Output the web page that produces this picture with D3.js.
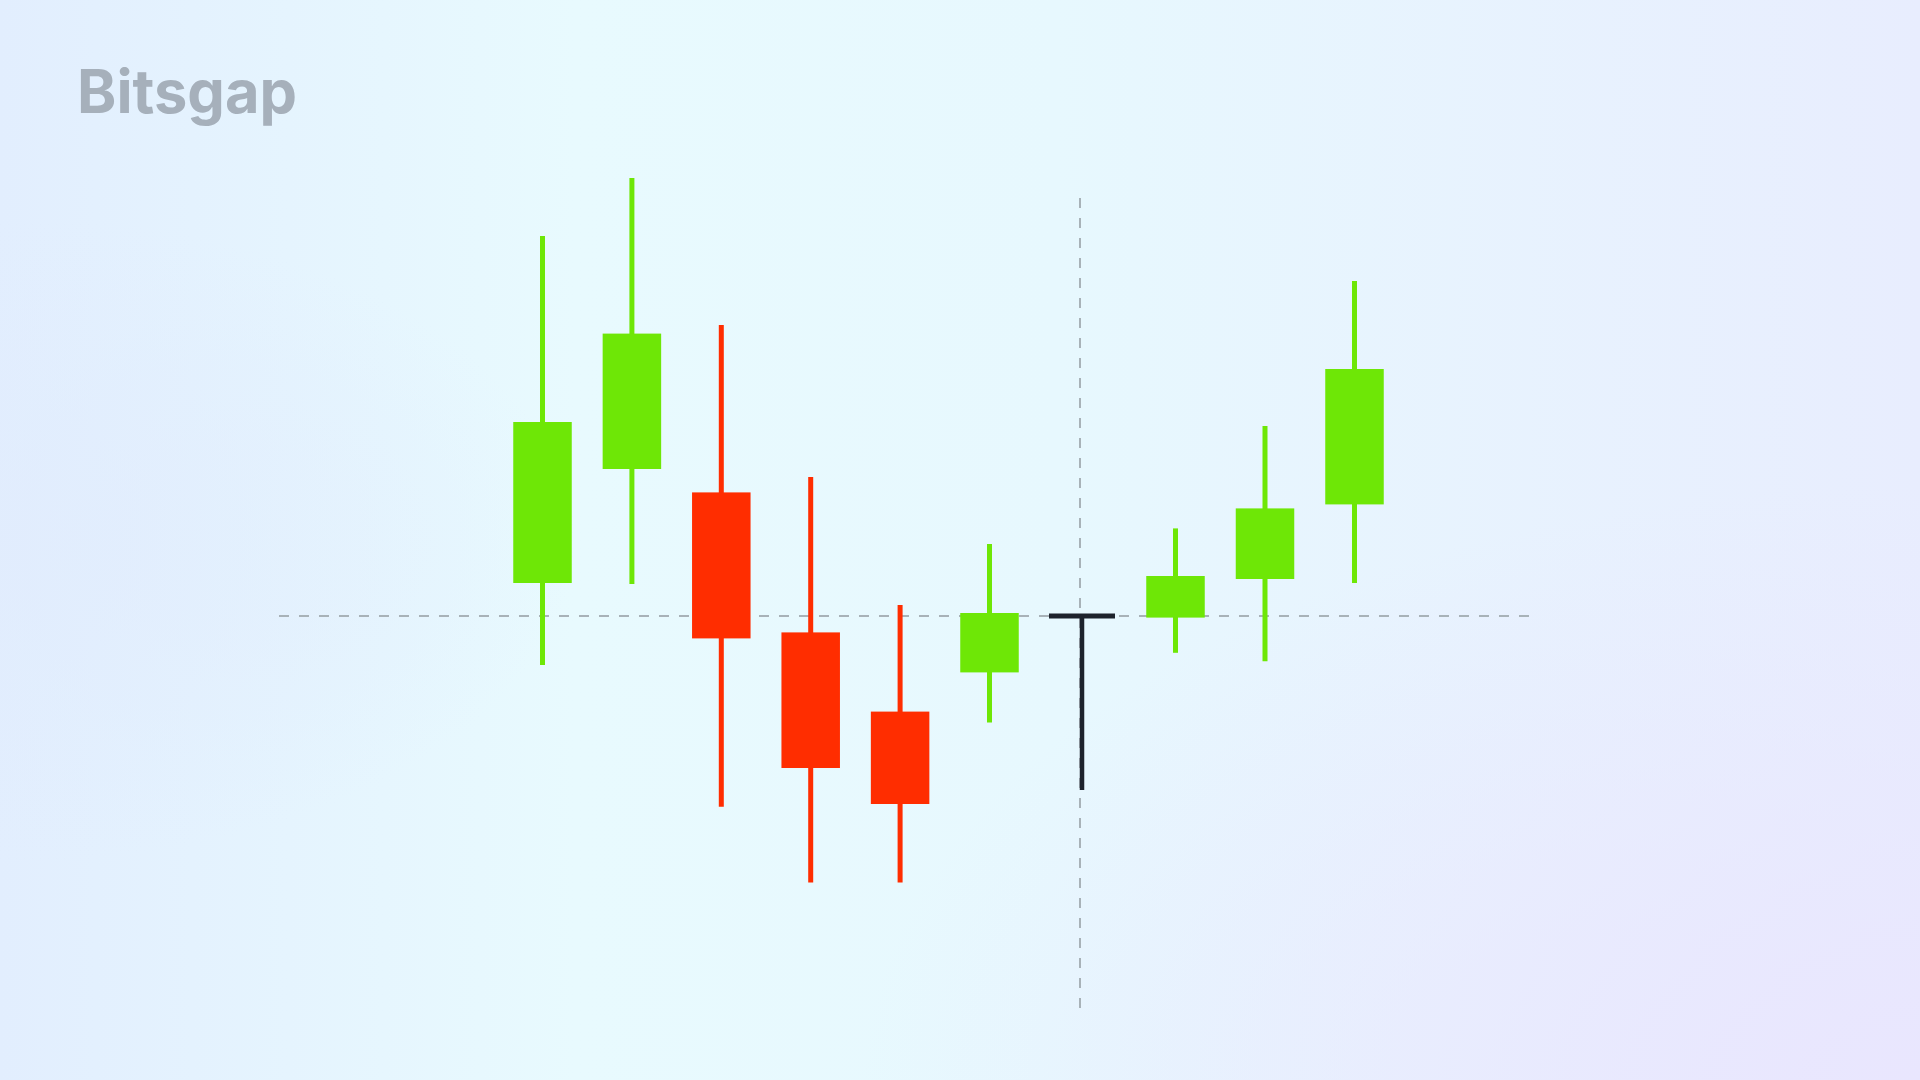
<!DOCTYPE html>
<html>
<head>
<meta charset="utf-8">
<script src="https://cdn.jsdelivr.net/npm/d3@7/dist/d3.min.js"></script>
<style>
  html, body { margin: 0; padding: 0; width: 1920px; height: 1080px; overflow: hidden; }
  svg { display: block; }
</style>
</head>
<body>
<svg id="chart" width="1920" height="1080"></svg>
<script>
// ---- data ----
const candleIndex = [0, 1, 2, 3, 4, 5, 6, 7, 8, 9];
const openValues  = [108.25, 136.75, 130.9, 95.9, 76.1, 85.9, 100, 99.6, 109.25, 127.9];
const closeValues = [148.5, 170.6, 94.4, 62.0, 53.0, 100.75, 100, 110.0, 126.9, 161.75];
const highValues  = [195.0, 209.5, 172.75, 134.75, 102.75, 118.0, 100, 121.9, 147.5, 183.75];
const lowValues   = [87.75, 108.0, 52.3, 33.4, 33.4, 73.4, 56.5, 90.8, 88.7, 108.25];
const crossIndex = 6;       // candle where crosshair is
const crossValue = 100;     // horizontal crosshair level
const brandText = "Bitsgap";

const candles = candleIndex.map((i) => ({
  i, open: openValues[i], close: closeValues[i], high: highValues[i], low: lowValues[i]
}));

const svg = d3.select("#chart");
const W = 1920, H = 1080;

// ---- background ----
const defs = svg.append("defs");
const lg = defs.append("linearGradient").attr("id", "bg")
  .attr("x1", "0").attr("y1", "0").attr("x2", "1").attr("y2", "0");
lg.append("stop").attr("offset", "0%").attr("stop-color", "#e2eefe");
lg.append("stop").attr("offset", "30%").attr("stop-color", "#e8fafe");
lg.append("stop").attr("offset", "55%").attr("stop-color", "#e7f8fe");
lg.append("stop").attr("offset", "100%").attr("stop-color", "#e8edfe");
svg.append("rect").attr("width", W).attr("height", H).attr("fill", "url(#bg)");

const rg = defs.append("radialGradient").attr("id", "bg2")
  .attr("cx", "1").attr("cy", "1").attr("r", "0.55");
rg.append("stop").attr("offset", "0%").attr("stop-color", "#e9e6fe").attr("stop-opacity", 1);
rg.append("stop").attr("offset", "100%").attr("stop-color", "#e9e6fe").attr("stop-opacity", 0);
svg.append("rect").attr("width", W).attr("height", H).attr("fill", "url(#bg2)");

const rg2 = defs.append("radialGradient").attr("id", "bg3")
  .attr("cx", "0").attr("cy", "0.5").attr("r", "0.3");
rg2.append("stop").attr("offset", "0%").attr("stop-color", "#e1ecfd").attr("stop-opacity", 0.8);
rg2.append("stop").attr("offset", "100%").attr("stop-color", "#e1ecfd").attr("stop-opacity", 0);
svg.append("rect").attr("width", W).attr("height", H).attr("fill", "url(#bg3)");

// ---- scales ----
const x = d3.scaleLinear().domain([0, 5, 6, 7, 9]).range([542.5, 989.5, 1082, 1175.5, 1354.5]);
const y = d3.scaleLinear().domain([100, 200]).range([616, 216]);

const bodyW = 58.5;
const green = "#6ee706", red = "#ff2d00", dark = "#1d222c";
const dashColor = "#a8b2b8";

// ---- crosshair ----
svg.append("line")
  .attr("x1", 279).attr("x2", 1533)
  .attr("y1", y(crossValue)).attr("y2", y(crossValue))
  .attr("stroke", dashColor).attr("stroke-width", 2)
  .attr("stroke-dasharray", "10,10");
svg.append("line")
  .attr("x1", x(crossIndex) - 2).attr("x2", x(crossIndex) - 2)
  .attr("y1", 198).attr("y2", 1010)
  .attr("stroke", dashColor).attr("stroke-width", 2)
  .attr("stroke-dasharray", "10,10");

// ---- candles ----
const colorOf = d => d.close > d.open ? green : (d.close < d.open ? red : dark);
const g = svg.append("g");

g.selectAll("line.wick").data(candles).enter().append("line")
  .attr("class", "wick")
  .attr("x1", d => x(d.i)).attr("x2", d => x(d.i))
  .attr("y1", d => y(d.high)).attr("y2", d => y(d.low))
  .attr("stroke", colorOf)
  .attr("stroke-width", d => d.open === d.close ? 4.5 : 5);

g.selectAll("rect.body").data(candles).enter().append("rect")
  .attr("class", "body")
  .attr("x", d => d.open === d.close ? x(d.i) - 33 : x(d.i) - bodyW / 2)
  .attr("width", d => d.open === d.close ? 66 : bodyW)
  .attr("y", d => d.open === d.close ? y(d.open) - 2.5 : y(Math.max(d.open, d.close)))
  .attr("height", d => d.open === d.close ? 5 : Math.abs(y(d.open) - y(d.close)))
  .attr("fill", colorOf);

// ---- brand ----
svg.append("text")
  .attr("x", 77).attr("y", 113)
  .attr("font-family", "Inter, 'Open Sans', sans-serif")
  .attr("font-weight", 700)
  .attr("font-size", 60)
  .attr("textLength", 220)
  .attr("lengthAdjust", "spacingAndGlyphs")
  .attr("fill", "#a6b0bb")
  .text(brandText);
</script>
</body>
</html>
